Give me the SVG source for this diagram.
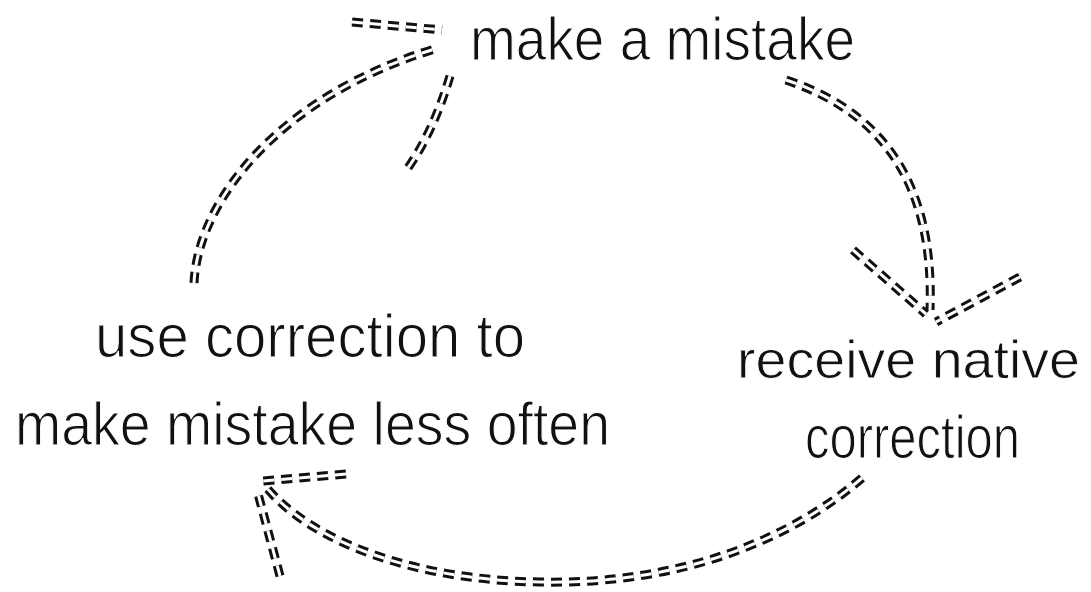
<svg xmlns="http://www.w3.org/2000/svg" width="1091" height="592" viewBox="0 0 1091 592">
<style>
.bg{fill:#fff}
.lbl{font-family:"Liberation Sans","DejaVu Sans",sans-serif;font-size:62px;fill:#111;stroke:#fff;stroke-width:1.2}
.sm{font-size:54px;stroke-width:0.8}
.o{fill:none;stroke:#111;stroke-width:9;stroke-dasharray:11 7}
.i{fill:none;stroke:#fff;stroke-width:3;stroke-dasharray:11 7}
</style>
<rect class="bg" width="1091" height="592"/>
<g id="connectors">
  <g id="c-use-to-mistake">
    <path class="o" d="M194,283 C198,200 280,95 438,48"/>
    <path class="i" d="M194,283 C198,200 280,95 438,48"/>
    <path class="o" d="M352,22 L442,30"/>
    <path class="i" d="M352,22 L442,30"/>
    <path class="o" d="M450,76 C440,110 425,145 405,172"/>
    <path class="i" d="M450,76 C440,110 425,145 405,172"/>
  </g>
  <g id="c-mistake-to-receive">
    <path class="o" d="M786,80 C870,108 935,170 930,310"/>
    <path class="i" d="M786,80 C870,108 935,170 930,310"/>
    <path class="o" d="M853,250 L926,314"/>
    <path class="i" d="M853,250 L926,314"/>
    <path class="o" d="M1020,277 L936,322"/>
    <path class="i" d="M1020,277 L936,322"/>
  </g>
  <g id="c-receive-to-use">
    <path class="o" d="M862,478 C790,540 680,585 540,582 C410,580 310,540 266,487"/>
    <path class="i" d="M862,478 C790,540 680,585 540,582 C410,580 310,540 266,487"/>
    <path class="o" d="M346,474 L262,481"/>
    <path class="i" d="M346,474 L262,481"/>
    <path class="o" d="M280,576 L257,490"/>
    <path class="i" d="M280,576 L257,490"/>
  </g>
</g>
<g id="node-mistake">
  <text class="lbl" x="470" y="60" textLength="385" lengthAdjust="spacingAndGlyphs">make a mistake</text>
</g>
<g id="node-receive">
  <text class="lbl sm" x="737" y="378" textLength="343" lengthAdjust="spacingAndGlyphs">receive native</text>
  <text class="lbl" x="805" y="458" textLength="215" lengthAdjust="spacingAndGlyphs">correction</text>
</g>
<g id="node-use">
  <text class="lbl" x="95" y="357" textLength="430" lengthAdjust="spacingAndGlyphs">use correction to</text>
  <text class="lbl" x="15" y="445" textLength="595" lengthAdjust="spacingAndGlyphs">make mistake less often</text>
</g>
</svg>
